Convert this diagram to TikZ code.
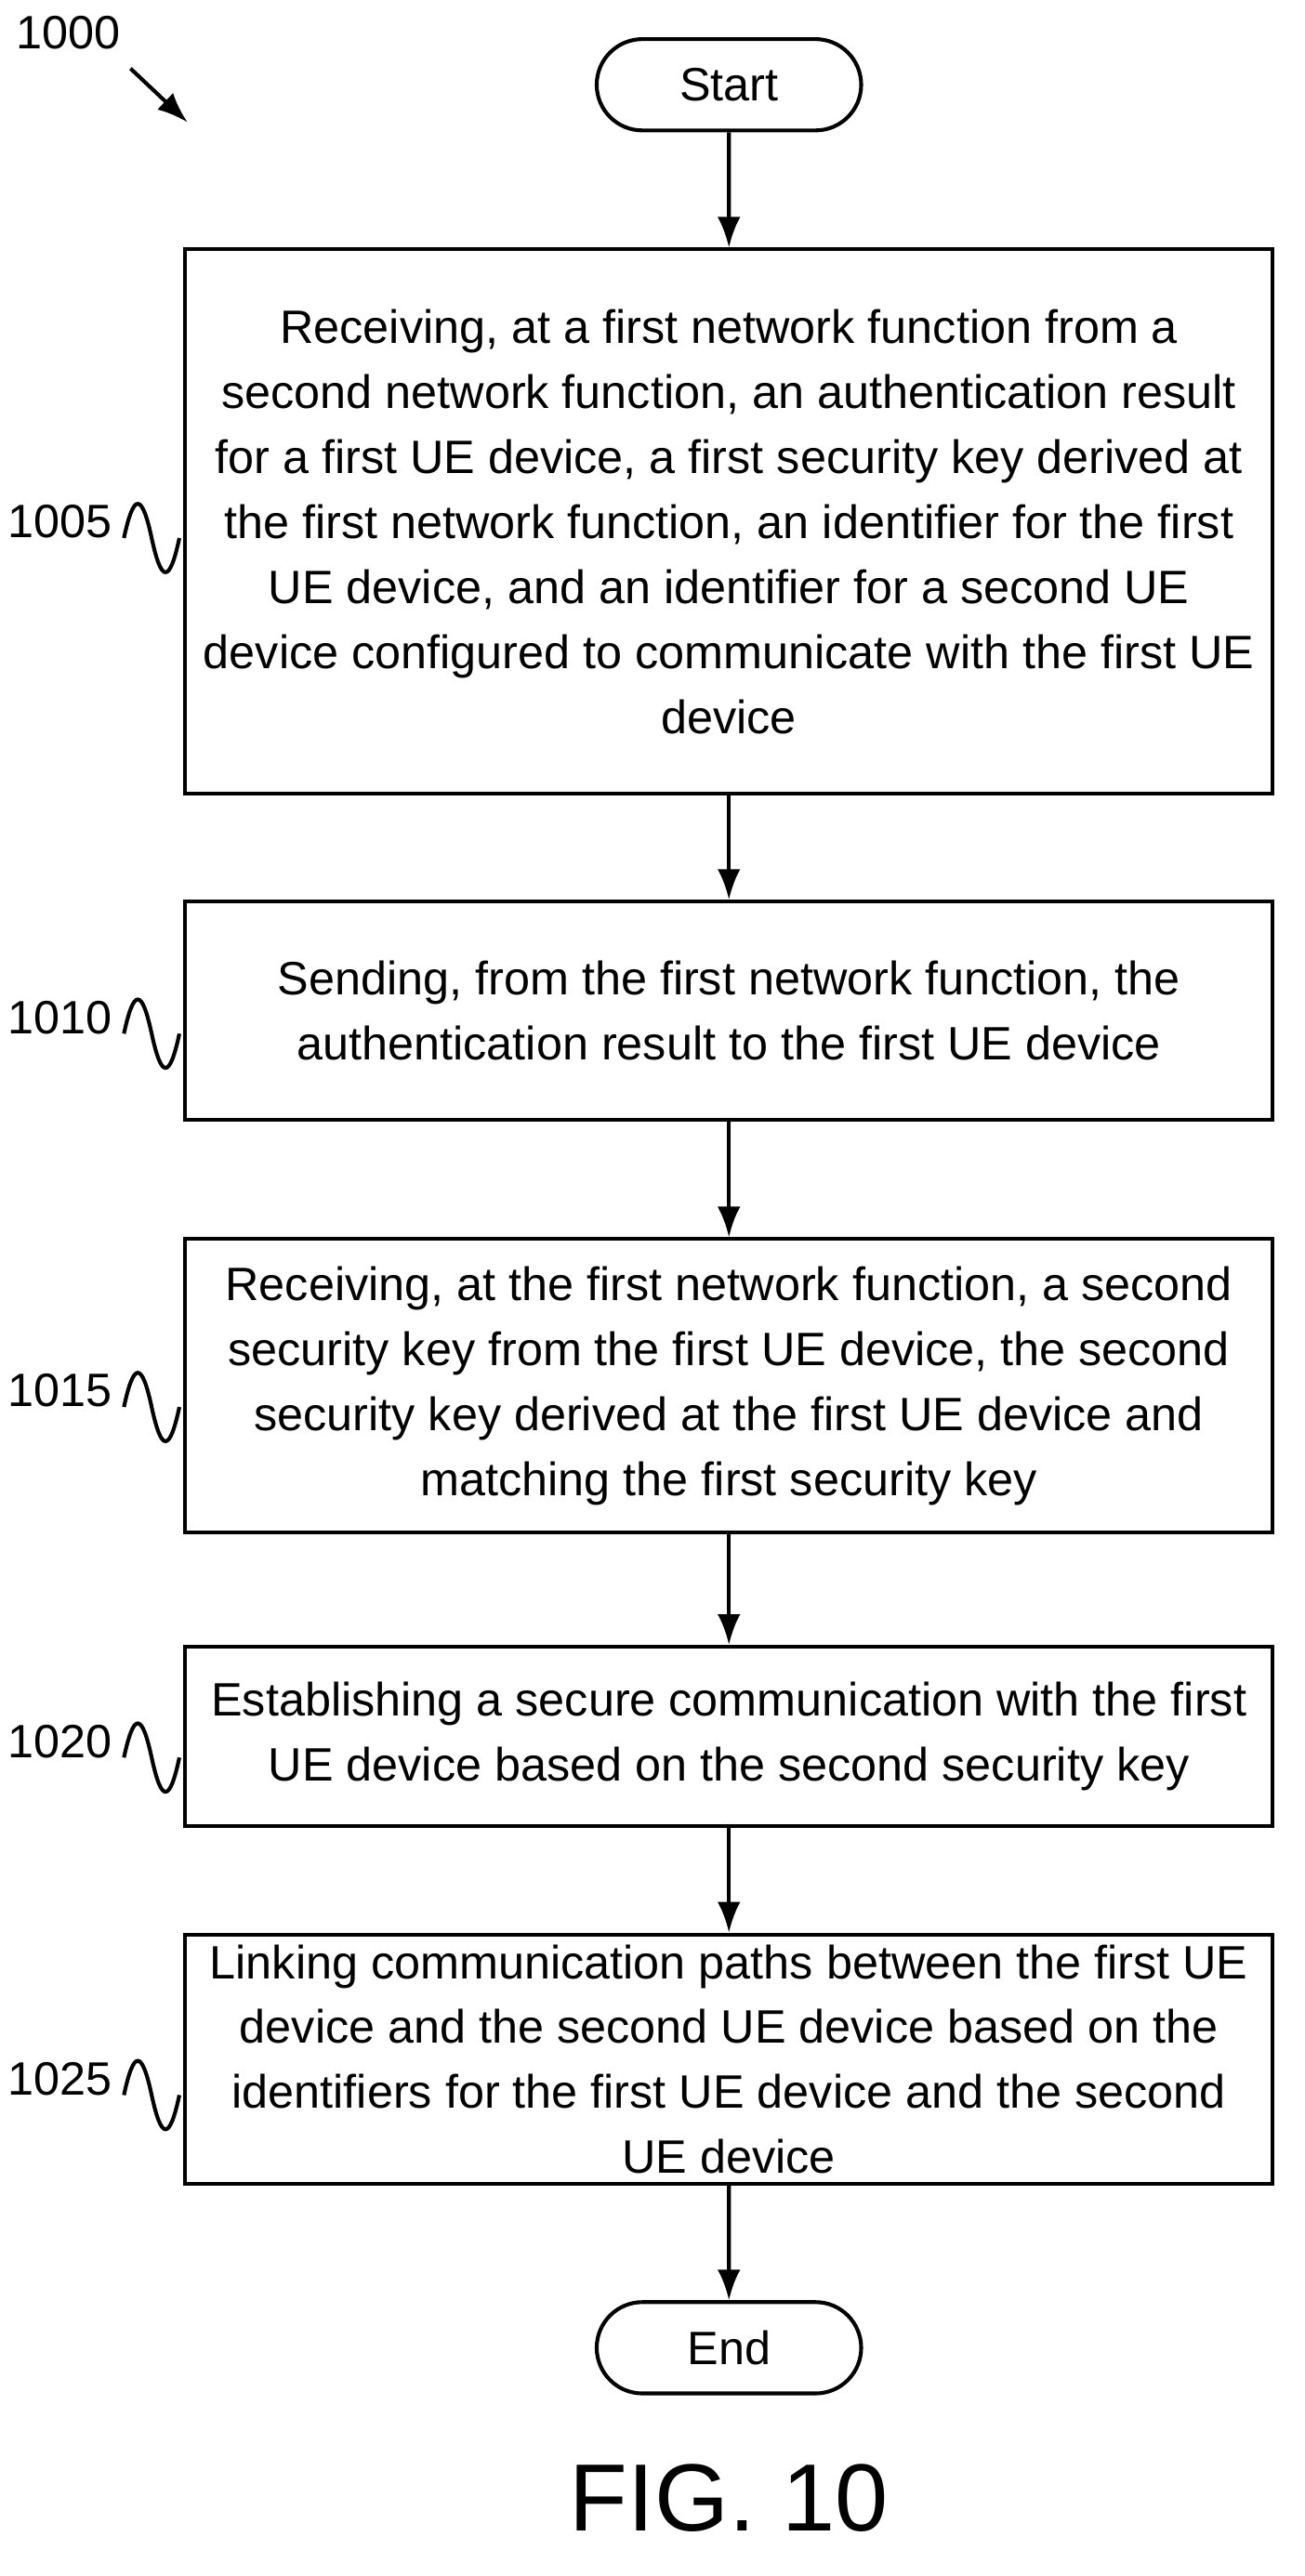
\documentclass[tikz,border=0pt]{standalone}
\usepackage{fontspec}
\setmainfont{Liberation Sans}
\usetikzlibrary{positioning,shapes.misc,arrows.meta}

\begin{document}
\begin{tikzpicture}[x=0.03cm,y=-0.03cm,
    proc/.style={rectangle,draw,line width=2pt,minimum width=667*0.03cm,align=center,
        font=\fontsize{24.5}{34}\selectfont,inner sep=0pt},
    term/.style={rounded rectangle,draw,line width=2pt,minimum width=170*0.03cm,
        minimum height=56*0.03cm,font=\fontsize{24.5}{28}\selectfont},
    flow/.style={-{Latex[length=16pt,width=12pt]},line width=2pt},
    ref/.style={font=\fontsize{24.5}{28}\selectfont,anchor=east},
    wave/.style={line width=2pt},
]
\useasboundingbox (0,0) rectangle (800,1580);

% terminals and steps
\node[term] (start) at (447,52) {Start};
\node[proc,minimum height=334*0.03cm] (s1005) at (447,320) {Receiving, at a first network function from a\\second network function, an authentication result\\for a first UE device, a first security key derived at\\the first network function, an identifier for the first\\UE device, and an identifier for a second UE\\device configured to communicate with the first UE\\device};
\node[proc,minimum height=134*0.03cm] (s1010) at (447,620) {Sending, from the first network function, the\\authentication result to the first UE device};
\node[proc,minimum height=180*0.03cm] (s1015) at (447,850) {Receiving, at the first network function, a second\\security key from the first UE device, the second\\security key derived at the first UE device and\\matching the first security key};
\node[proc,minimum height=110*0.03cm] (s1020) at (447,1065) {Establishing a secure communication with the first\\UE device based on the second security key};
\node[proc,minimum height=153*0.03cm] (s1025) at (447,1263) {Linking communication paths between the first UE\\device and the second UE device based on the\\identifiers for the first UE device and the second\\UE device};
\node[term] (end) at (447,1440) {End};
\node[font=\fontsize{50}{58}\selectfont] (fig) at (447,1532) {FIG. 10};

% connectors
\draw[flow] (start) -- (s1005);
\draw[flow] (s1005) -- (s1010);
\draw[flow] (s1010) -- (s1015);
\draw[flow] (s1015) -- (s1020);
\draw[flow] (s1020) -- (s1025);
\draw[flow] (s1025) -- (end);

% reference numerals
\node[font=\fontsize{24.5}{28}\selectfont] (n1000) at (42,20) {1000};
\coordinate (a1000) at (115,75);
\draw[flow] (80,42) -- (a1000);
\foreach \n/\y in {1005/320,1010/624,1015/853,1020/1068,1025/1275} {
    \node[ref] (l\n) at (73,\y) {\n};
    \draw[wave] (l\n.east) ++(3,10) .. controls ++(6,-28) and ++(-6,-28) .. ++(17,0)
        .. controls ++(6,28) and ++(-6,28) .. ++(17,0);
}
\end{tikzpicture}
\end{document}
